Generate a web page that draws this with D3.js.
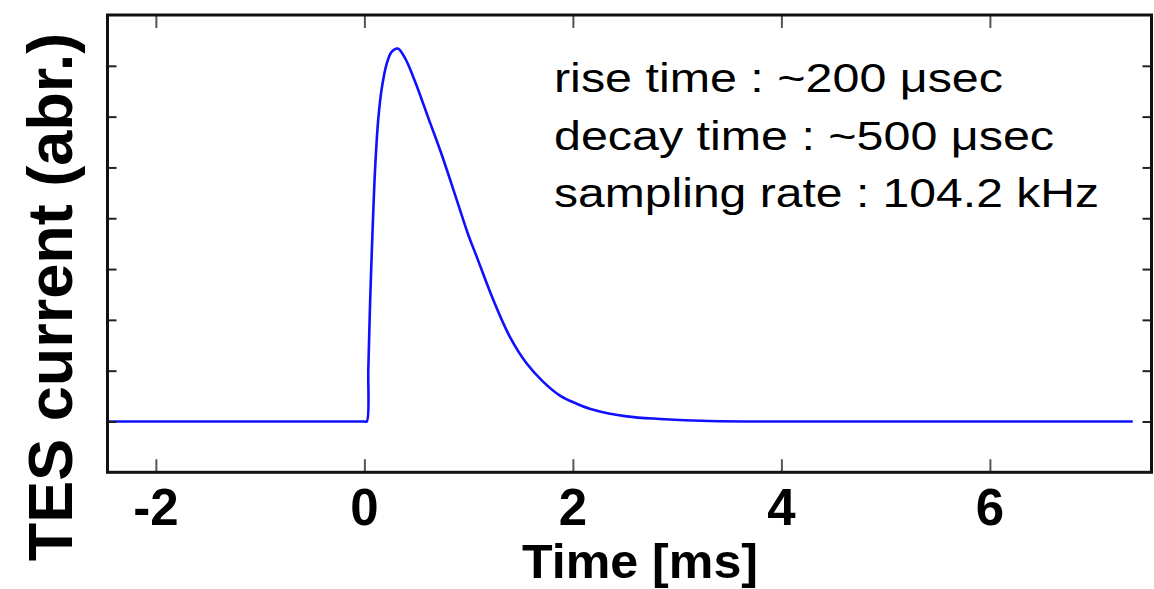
<!DOCTYPE html>
<html>
<head>
<meta charset="utf-8">
<script src="https://cdn.jsdelivr.net/npm/d3@7"></script>
<style>
  html, body { margin: 0; padding: 0; background: #fff; }
  svg { display: block; }
  text { font-family: "Liberation Sans", Arial, Helvetica, sans-serif; }
</style>
</head>
<body>
<svg id="chart" width="1154" height="589"></svg>
<script>
// ---- data ----
const timeMs = [-2.45, -1.5, -0.5, 0.0, 0.023, 0.038, 0.055, 0.077, 0.103, 0.134, 0.167, 0.215, 0.263, 0.32, 0.39, 0.486, 0.614, 0.742, 0.87, 0.997, 1.078, 1.237, 1.397, 1.557, 1.716, 1.876, 2.036, 2.196, 2.516, 2.835, 3.31, 4.0, 5.0, 6.0, 7.37];
const current = [0, 0, 0, 0, 0, 1.04, 2.35, 3.67, 4.98, 5.97, 6.56, 7.05, 7.28, 7.34, 7.15, 6.69, 5.97, 5.25, 4.46, 3.67, 3.24, 2.39, 1.66, 1.14, 0.78, 0.51, 0.35, 0.23, 0.10, 0.05, 0.01, 0, 0, 0, 0];
const xTicks = [-2, 0, 2, 4, 6];
const yTicks = [0, 1, 2, 3, 4, 5, 6, 7];
const xDomain = [-2.464, 7.55];
const yDomain = [-1, 8];
const annotations = ["rise time : ~200 \u03bcsec", "decay time : ~500 \u03bcsec", "sampling rate : 104.2 kHz"];
const annotationWidths = [449, 500, 545];
const xTitle = "Time [ms]";
const yTitle = "TES current (abr.)";

// ---- layout ----
const svg = d3.select("#chart");
const mLeft = 107.5, mRight = 1151.5, mTop = 15, mBottom = 472.3;

const x = d3.scaleLinear().domain(xDomain).range([mLeft, mRight]);
const y = d3.scaleLinear().domain(yDomain).range([mBottom, mTop]);

// curve
const pts = timeMs.map((t, i) => [t, current[i]]);
const line = d3.line().x(d => x(d[0])).y(d => y(d[1])).curve(d3.curveCatmullRom.alpha(0.5));
svg.append("path")
  .attr("d", line(pts))
  .attr("fill", "none")
  .attr("stroke", "#1010ff")
  .attr("stroke-width", 2.6)
  .attr("stroke-linejoin", "round");

// axes ticks (inward)
const gB = svg.append("g").attr("transform", `translate(0,${mBottom})`)
  .call(d3.axisBottom(x).tickValues(xTicks).tickSize(-13).tickFormat(""));
const gT = svg.append("g").attr("transform", `translate(0,${mTop})`)
  .call(d3.axisTop(x).tickValues(xTicks).tickSize(-13).tickFormat(""));
const gL = svg.append("g").attr("transform", `translate(${mLeft},0)`)
  .call(d3.axisLeft(y).tickValues(yTicks).tickSize(-9).tickFormat(""));
const gR = svg.append("g").attr("transform", `translate(${mRight},0)`)
  .call(d3.axisRight(y).tickValues(yTicks).tickSize(-9).tickFormat(""));
[gB, gT, gL, gR].forEach(g => {
  g.select(".domain").remove();
  g.selectAll(".tick line").attr("stroke", "#555").attr("stroke-width", 2);
});
[gL, gR].forEach(g => g.selectAll(".tick line").attr("stroke", "#222"));

// frame
svg.append("rect")
  .attr("x", mLeft).attr("y", mTop)
  .attr("width", mRight - mLeft).attr("height", mBottom - mTop)
  .attr("fill", "none").attr("stroke", "#111").attr("stroke-width", 3);

// x tick labels
svg.append("g").selectAll("text").data(xTicks).join("text")
  .attr("x", d => x(d)).attr("y", 524.5)
  .attr("text-anchor", "middle")
  .attr("font-weight", "bold").attr("font-size", 51)
  .text(d => d < 0 ? "-" + Math.abs(d) : String(d));

// x title
svg.append("text")
  .attr("x", 640).attr("y", 578)
  .attr("text-anchor", "middle")
  .attr("font-weight", "bold").attr("font-size", 49)
  .attr("textLength", 236)
  .attr("lengthAdjust", "spacingAndGlyphs")
  .text(xTitle);

// y title
svg.append("text")
  .attr("transform", "translate(72,297) rotate(-90)")
  .attr("text-anchor", "middle")
  .attr("font-weight", "bold").attr("font-size", 63)
  .text(yTitle);

// annotations
svg.append("g").selectAll("text").data(annotations).join("text")
  .attr("x", 554).attr("y", (d, i) => 92.3 + i * 57.2)
  .attr("font-size", 41)
  .attr("textLength", (d, i) => annotationWidths[i])
  .attr("lengthAdjust", "spacingAndGlyphs")
  .attr("fill", "#000")
  .text(d => d);
</script>
</body>
</html>
